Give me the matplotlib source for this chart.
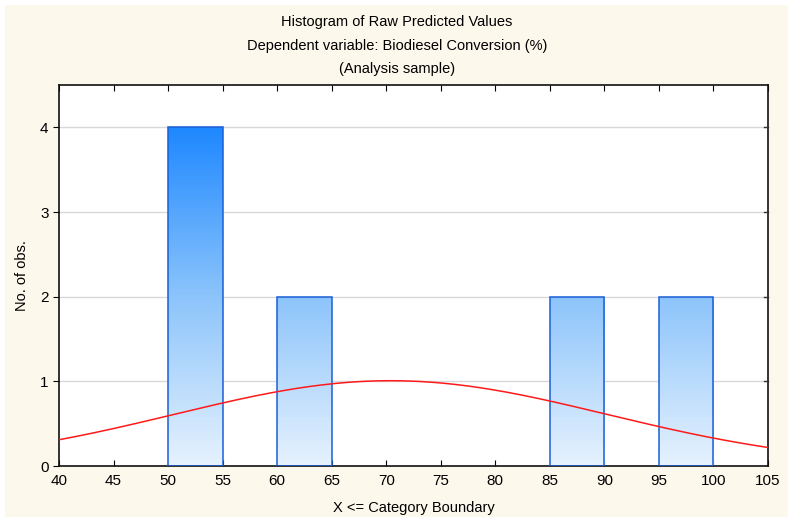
import numpy as np
import matplotlib.pyplot as plt
from matplotlib.patches import Rectangle
from matplotlib.colors import LinearSegmentedColormap

plt.rcParams['font.family'] = ['Liberation Sans', 'DejaVu Sans']

# bins (left edge, upper boundary) and counts
bin_left = [50, 60, 85, 95]
bin_right = [55, 65, 90, 100]
counts = [4, 2, 2, 2]
# fitted normal curve
fit_mean = 70.4
fit_sd = 19.8
n_obs = 10
bin_width = 5

xticks = list(range(40, 106, 5))
yticks = [0, 1, 2, 3, 4]

fig = plt.figure(figsize=(8.06, 5.22), dpi=100)
fig.patch.set_facecolor('white')
fig.patches.append(Rectangle((5/806, 5/522), 783/806, 512/522, transform=fig.transFigure,
                             facecolor='#fdf8ec', edgecolor='none', zorder=-10))

ax = fig.add_axes([59/806, 56/522, 709/806, 381/522])
ax.set_facecolor('white')
ax.set_xlim(40, 105)
ax.set_ylim(0, 4.5)

cmap = LinearSegmentedColormap.from_list('bars', ['#e6f2fe', '#8cc4fb', '#1e88ff'])
grad = np.linspace(0, 1, 256).reshape(-1, 1)

for l, r, c in zip(bin_left, bin_right, counts):
    im = ax.imshow(grad, cmap=cmap, origin='lower', extent=[40, 105, 0, 4],
                   aspect='auto', zorder=2, vmin=0, vmax=1)
    rect = Rectangle((l, 0), r - l, c, facecolor='none', edgecolor='#1a5fd8', lw=1.1, zorder=3)
    ax.add_patch(rect)
    im.set_clip_path(rect)

xs = np.linspace(40, 105, 400)
ys = n_obs * bin_width / (fit_sd * np.sqrt(2 * np.pi)) * np.exp(-(xs - fit_mean) ** 2 / (2 * fit_sd ** 2))
ax.plot(xs, ys, color='#ff1a1a', lw=1.1, zorder=4)

ax.set_xticks(xticks)
ax.set_yticks(yticks)
ax.yaxis.grid(True, color='#d8d8d8', lw=1, zorder=0)
ax.set_axisbelow(True)
ax.tick_params(axis='x', direction='in', top=True, length=4, labelsize=11, pad=6)
ax.tick_params(axis='y', direction='out', right=False, length=4, labelsize=11)
for y in yticks[1:]:
    ax.plot([104.6, 105], [y, y], color='#333333', lw=1, clip_on=False, zorder=5)
for s in ax.spines.values():
    s.set_color('#111111')
    s.set_linewidth(1.2)

ax.set_xlabel('X <= Category Boundary', fontsize=10.5, labelpad=9)
ax.set_ylabel('No. of obs.', fontsize=10.5, labelpad=8)

fig.text(397/806, 1 - 22/522, 'Histogram of Raw Predicted Values', ha='center', va='center', fontsize=10.5)
fig.text(397/806, 1 - 46/522, 'Dependent variable: Biodiesel Conversion (%)', ha='center', va='center', fontsize=10.5)
fig.text(397/806, 1 - 69/522, '(Analysis sample)', ha='center', va='center', fontsize=10.5)

plt.savefig('out.png', dpi=100)
